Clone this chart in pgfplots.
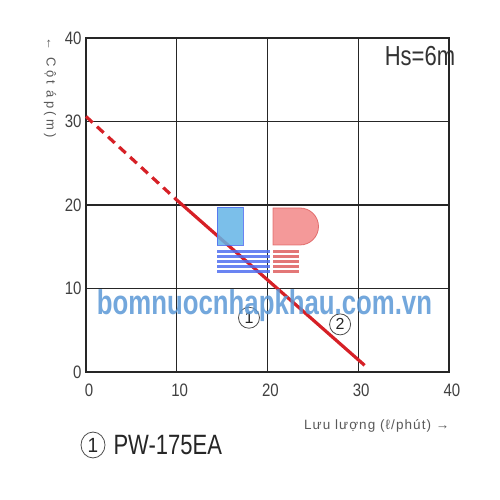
\documentclass[border=0pt]{standalone}
\usepackage{pgfplots}
\pgfplotsset{compat=1.18}
\usepackage{graphicx}
\usepackage{fontspec}
\setmainfont{Liberation Sans}
\newfontfamily\spacedx[LetterSpace=8]{Liberation Sans}
\newfontfamily\spacedy[LetterSpace=25]{Liberation Sans}
\definecolor{lred}{RGB}{214,32,38}
\definecolor{wmblue}{RGB}{90,152,214}
\definecolor{lgblue}{RGB}{100,180,230}
\definecolor{lgstripe}{RGB}{80,110,240}
\definecolor{lgred}{RGB}{242,135,135}
\definecolor{lgredd}{RGB}{222,95,95}
\tikzset{circnum/.style={circle, draw=black!70, line width=0.8pt, minimum size=#1, inner sep=0pt, text=black!85}}
\begin{document}
\begin{tikzpicture}[x=1pt,y=1pt]
\path[use as bounding box] (0,0) rectangle (500,500);
\begin{axis}[
  at={(86pt,128pt)}, anchor=south west,
  scale only axis, width=363pt, height=334pt,
  xmin=0, xmax=40, ymin=0, ymax=40,
  xtick={0,10,20,30,40}, ytick={0,10,20,30,40},
  grid=major, grid style={black!85, line width=1.4pt},
  axis line style={black!85, line width=1.4pt},
  tick style={draw=none},
  /pgf/number format/assume math mode=true,
  ticklabel style={font=\fontsize{15}{15}\selectfont, text=black!75, yscale=1.2},
  xticklabel style={yshift=-6pt, xshift=3pt},
  yticklabel style={xshift=-1pt},
  clip=false,
]
\addplot[lred, line width=3.2pt, dash pattern=on 9pt off 6pt] coordinates {(0,30.6) (10,20.6)};
\addplot[lred, line width=3.2pt] coordinates {(10,20.6) (30.7,0.8)};
\node[circnum=21pt, font=\fontsize{16}{16}\selectfont] at (axis cs:17.96,6.5) {1};
\node[circnum=21pt, font=\fontsize{16}{16}\selectfont] at (axis cs:28.0,5.7) {2};
\end{axis}
% logo (watermark)
\begin{scope}[opacity=0.85]
\fill[lgblue, draw=lgstripe, line width=0.8pt] (217,293) rectangle (243,255);
\foreach \yy in {250,255,260,265,270} {
  \fill[lgstripe] (217,500-\yy) rectangle (270,500-\yy-3);
  \fill[lgredd] (273,500-\yy) rectangle (299,500-\yy-3);
}
\fill[lgred, draw=lgredd, line width=0.8pt] (273,292) -- (300,292) arc[start angle=90, end angle=-90, radius=18.5] -- (290,255) -- (273,255) -- cycle;
\end{scope}
\node[opacity=0.85, text=wmblue, inner sep=0pt] at (264.5,194) {\resizebox*{335pt}{32pt}{\bfseries bomnuocnhapkhau.com.vn}};
% labels
\node[anchor=center, font=\fontsize{22}{22}\selectfont, text=black!80, yscale=1.25] at (420,444) {Hs=6m};
\node[anchor=east, font=\spacedx\fontsize{13.5}{13.5}\selectfont, text=black!65] at (453,74) {Lưu lượng (ℓ/phút) →};
\node[anchor=west, rotate=-90, font=\spacedy\fontsize{13}{13}\selectfont, text=black!65] at (50,466) {← Cột áp(m)};
\node[circnum=24pt, font=\fontsize{19}{19}\selectfont, yscale=1.08] at (93,55) {1};
\node[anchor=west, font=\fontsize{22}{22}\selectfont, text=black!85, yscale=1.27] at (110,55) {PW-175EA};
\end{tikzpicture}
\end{document}
